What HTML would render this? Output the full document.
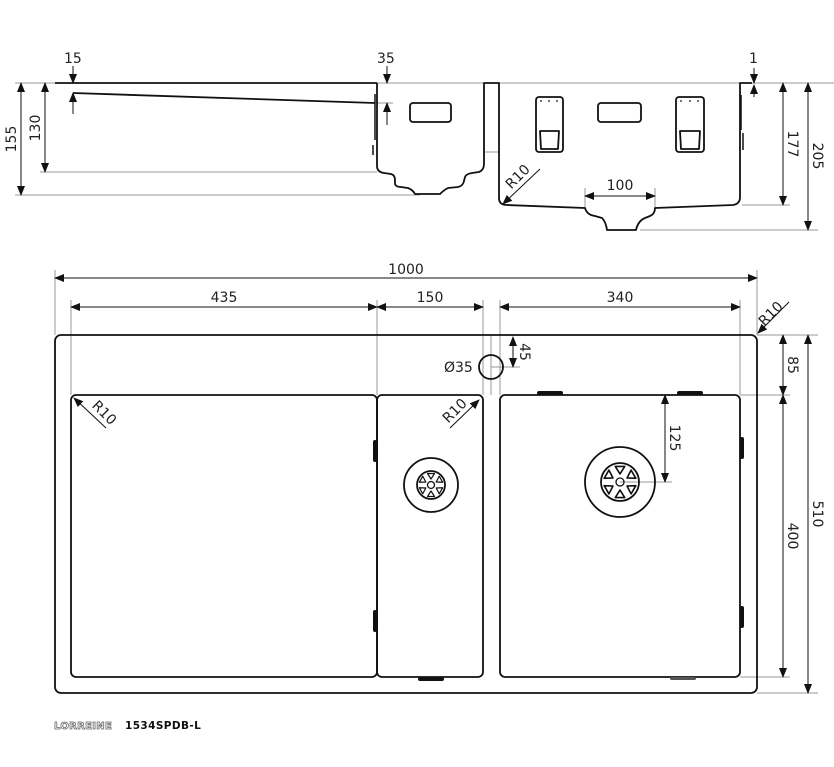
<!DOCTYPE html>
<html><head><meta charset="utf-8"><style>
html,body{margin:0;padding:0;background:#fff;}
svg{display:block;}
text{font-family:"DejaVu Sans","Liberation Sans",sans-serif;font-size:14px;fill:#222;}
</style></head><body>
<svg width="834" height="767" viewBox="0 0 834 767" xmlns="http://www.w3.org/2000/svg">
<defs>
<marker id="a" markerWidth="10" markerHeight="8" refX="9" refY="4" orient="auto-start-reverse" markerUnits="userSpaceOnUse">
<path d="M0,0 L10,4 L0,8 Z" fill="#111"/></marker>
<path id="h" d="M-3.5,-11.5 L3.5,-11.5 L0,-6 Z" fill="none" stroke="#111" stroke-width="1.2" stroke-linejoin="round"/>
</defs>
<g stroke="#999" stroke-width="1" fill="none">
<line x1="15" y1="83" x2="834" y2="83"/>
<line x1="40" y1="172" x2="377" y2="172"/>
<line x1="15" y1="195" x2="420" y2="195"/>
<line x1="377" y1="103" x2="393" y2="103"/>
<line x1="484" y1="152" x2="499" y2="152"/>
<line x1="742" y1="205" x2="790" y2="205"/>
<line x1="640" y1="230" x2="818" y2="230"/>
<line x1="585" y1="188" x2="585" y2="208"/>
<line x1="655" y1="188" x2="655" y2="208"/>
<line x1="55" y1="270" x2="55" y2="335"/>
<line x1="757" y1="270" x2="757" y2="335"/>
<line x1="71" y1="300" x2="71" y2="395"/>
<line x1="377" y1="300" x2="377" y2="395"/>
<line x1="483" y1="300" x2="483" y2="395"/>
<line x1="500" y1="300" x2="500" y2="395"/>
<line x1="740" y1="300" x2="740" y2="395"/>
<line x1="757" y1="335" x2="818" y2="335"/>
<line x1="740" y1="395" x2="790" y2="395"/>
<line x1="740" y1="677" x2="790" y2="677"/>
<line x1="757" y1="693" x2="818" y2="693"/>
<line x1="491" y1="335" x2="491" y2="395"/>
<line x1="491" y1="367" x2="520" y2="367"/>
<line x1="620" y1="482" x2="672" y2="482"/>
</g>
<g stroke="#111" stroke-width="1" fill="none">
<line x1="21" y1="83" x2="21" y2="195" marker-start="url(#a)" marker-end="url(#a)"/>
<line x1="45" y1="83" x2="45" y2="172" marker-start="url(#a)" marker-end="url(#a)"/>
<line x1="73" y1="66" x2="73" y2="83" marker-end="url(#a)"/>
<line x1="73" y1="114" x2="73" y2="93" marker-end="url(#a)"/>
<line x1="387" y1="66" x2="387" y2="83" marker-end="url(#a)"/>
<line x1="387" y1="125" x2="387" y2="103" marker-end="url(#a)"/>
<line x1="754" y1="68" x2="754" y2="83" marker-end="url(#a)"/>
<line x1="754" y1="97" x2="754" y2="85" marker-end="url(#a)"/>
<line x1="783" y1="83" x2="783" y2="205" marker-start="url(#a)" marker-end="url(#a)"/>
<line x1="808" y1="83" x2="808" y2="230" marker-start="url(#a)" marker-end="url(#a)"/>
<line x1="585" y1="196" x2="655" y2="196" marker-start="url(#a)" marker-end="url(#a)"/>
<line x1="540" y1="169" x2="503" y2="204" marker-end="url(#a)"/>
<line x1="55" y1="278" x2="757" y2="278" marker-start="url(#a)" marker-end="url(#a)"/>
<line x1="71" y1="307" x2="377" y2="307" marker-start="url(#a)" marker-end="url(#a)"/>
<line x1="377" y1="307" x2="483" y2="307" marker-start="url(#a)" marker-end="url(#a)"/>
<line x1="500" y1="307" x2="740" y2="307" marker-start="url(#a)" marker-end="url(#a)"/>
<line x1="783" y1="335" x2="783" y2="395" marker-start="url(#a)" marker-end="url(#a)"/>
<line x1="783" y1="395" x2="783" y2="677" marker-start="url(#a)" marker-end="url(#a)"/>
<line x1="808" y1="335" x2="808" y2="693" marker-start="url(#a)" marker-end="url(#a)"/>
<line x1="665" y1="395" x2="665" y2="482" marker-start="url(#a)" marker-end="url(#a)"/>
<line x1="513" y1="337" x2="513" y2="367" marker-start="url(#a)" marker-end="url(#a)"/>
<line x1="789" y1="302" x2="758" y2="333" marker-end="url(#a)"/>
<line x1="106" y1="428" x2="74" y2="398" marker-end="url(#a)"/>
<line x1="450" y1="428" x2="479" y2="400" marker-end="url(#a)"/>
</g>
<g stroke="#111" stroke-width="1.8" fill="none" stroke-linejoin="round">
<polyline points="55,83 377,83"/>
<line x1="73" y1="93" x2="375" y2="103"/>
<path d="M377,83 L377,166 Q377,172 384,173 L391,174 Q395,175 395,180 L395,184 Q396,187 401,187 L408,188 Q413,190 415,194 L440,194 Q444,190 448,188 L458,187 Q463,186 464,181 L465,177 Q466,174 472,173 L479,172 Q484,170 484,164 L484,83 L499,83 L499,198 Q499,205 507,205 L585,208 Q587,215 595,216 L602,218 Q606,222 607,230 L636,230 Q638,221 645,218 L650,216 Q655,214 655,208 L733,205 Q740,204 740,197 L740,83 L752,83"/>
<rect x="410" y="103" width="41" height="19" rx="3"/>
<rect x="598" y="103" width="43" height="19" rx="3"/>
<rect x="536" y="97" width="27" height="55" rx="3"/>
<rect x="676" y="97" width="28" height="55" rx="3"/>
<path d="M540,131 L559,131 L558,149 L541,149 Z"/>
<path d="M680,131 L700,131 L699,149 L681,149 Z"/>
<path d="M375,94 L375,140 M373,145 L373,155" stroke-width="1.5"/>
<path d="M741,95 L741,130 M743,133 L743,150" stroke-width="1.5"/>
<rect x="55" y="335" width="702" height="358" rx="6"/>
<rect x="71" y="395" width="306" height="282" rx="5"/>
<rect x="377" y="395" width="106" height="282" rx="5"/>
<rect x="500" y="395" width="240" height="282" rx="5"/>
<circle cx="491" cy="367" r="12"/>
<circle cx="431" cy="485" r="27"/>
<circle cx="431" cy="485" r="14"/>
<circle cx="431" cy="485" r="3.5" stroke-width="1.3"/>
<circle cx="620" cy="482" r="35"/>
<circle cx="620" cy="482" r="19"/>
<circle cx="620" cy="482" r="4" stroke-width="1.3"/>
</g>
<g fill="#111" stroke="none">
<circle cx="541" cy="101" r="0.9"/><circle cx="549" cy="101" r="0.9"/><circle cx="557" cy="101" r="0.9"/>
<circle cx="681" cy="101" r="0.9"/><circle cx="690" cy="101" r="0.9"/><circle cx="698" cy="101" r="0.9"/>
</g>
<g transform="translate(431,485)">
<use href="#h"/><use href="#h" transform="rotate(60)"/><use href="#h" transform="rotate(120)"/>
<use href="#h" transform="rotate(180)"/><use href="#h" transform="rotate(240)"/><use href="#h" transform="rotate(300)"/>
</g>
<g transform="translate(620,482) scale(1.35)">
<use href="#h"/><use href="#h" transform="rotate(60)"/><use href="#h" transform="rotate(120)"/>
<use href="#h" transform="rotate(180)"/><use href="#h" transform="rotate(240)"/><use href="#h" transform="rotate(300)"/>
</g>
<g fill="#111">
<rect x="373" y="440" width="4" height="22" rx="2"/>
<rect x="373" y="610" width="4" height="22" rx="2"/>
<rect x="740" y="437" width="4" height="22" rx="2"/>
<rect x="740" y="606" width="4" height="22" rx="2"/>
<rect x="537" y="391" width="26" height="4" rx="2"/>
<rect x="677" y="391" width="26" height="4" rx="2"/>
<rect x="418" y="677" width="26" height="4" rx="2"/>
<rect x="670" y="677" width="26" height="3" rx="1.5" fill="#555"/>
</g>
<g>
<text x="64" y="63">15</text>
<text x="377" y="63">35</text>
<text x="749" y="63">1</text>
<text transform="translate(16,139) rotate(-90)" text-anchor="middle">155</text>
<text transform="translate(40,128) rotate(-90)" text-anchor="middle">130</text>
<text transform="translate(788,144) rotate(90)" text-anchor="middle">177</text>
<text transform="translate(813,156) rotate(90)" text-anchor="middle">205</text>
<text x="620" y="190" text-anchor="middle">100</text>
<text transform="translate(521,180) rotate(-45)" text-anchor="middle">R10</text>
<text x="406" y="274" text-anchor="middle">1000</text>
<text x="224" y="302" text-anchor="middle">435</text>
<text x="430" y="302" text-anchor="middle">150</text>
<text x="620" y="302" text-anchor="middle">340</text>
<text transform="translate(774,317) rotate(-45)" text-anchor="middle">R10</text>
<text transform="translate(520,352) rotate(90)" text-anchor="middle">45</text>
<text x="444" y="372">Ø35</text>
<text transform="translate(788,365) rotate(90)" text-anchor="middle">85</text>
<text transform="translate(788,536) rotate(90)" text-anchor="middle">400</text>
<text transform="translate(813,514) rotate(90)" text-anchor="middle">510</text>
<text transform="translate(670,438) rotate(90)" text-anchor="middle">125</text>
<text transform="translate(101,416) rotate(45)" text-anchor="middle">R10</text>
<text transform="translate(458,414) rotate(-45)" text-anchor="middle">R10</text>
<text x="54" y="729" style="font-size:10px;font-weight:bold;fill:#fff;stroke:#666;stroke-width:0.8;letter-spacing:0.3px">LORREINE</text>
<text x="125" y="729" style="font-size:10.5px;font-weight:bold;fill:#111;letter-spacing:0.4px">1534SPDB-L</text>
</g>
</svg>
</body></html>
